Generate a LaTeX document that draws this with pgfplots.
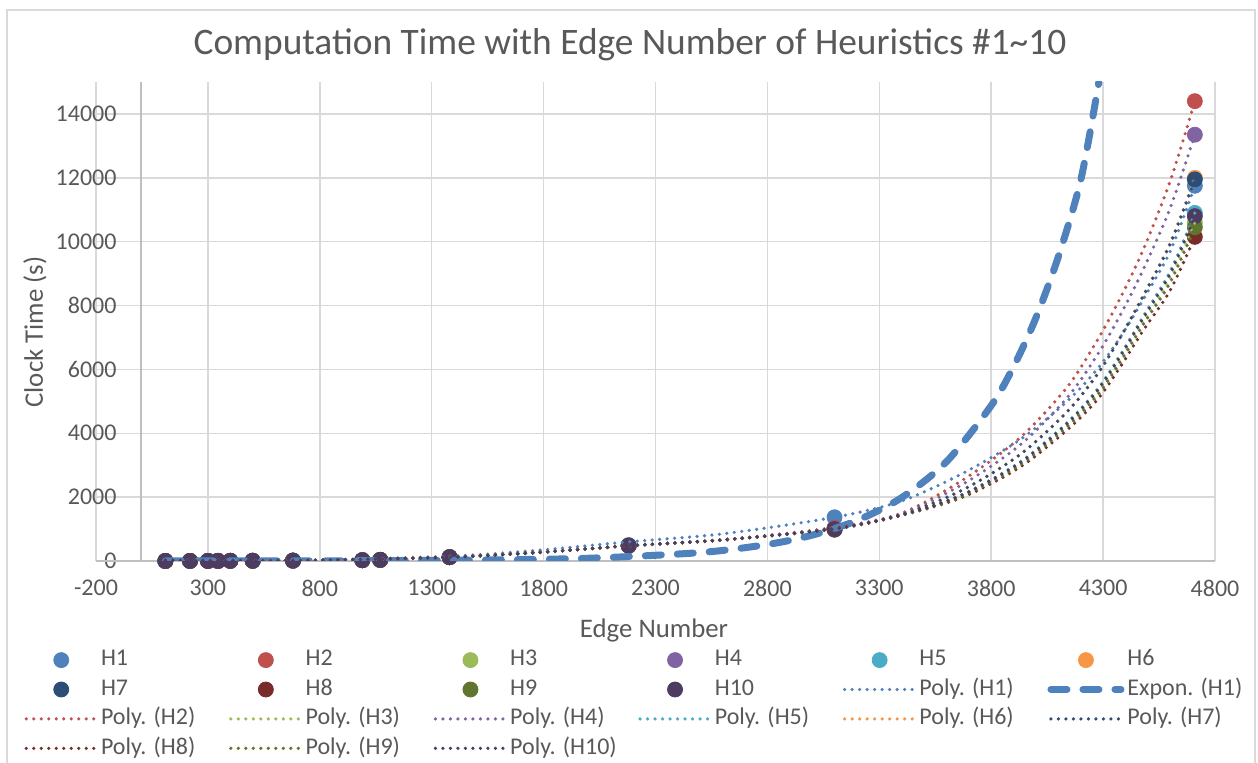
\documentclass[border=0pt]{standalone}
\usepackage{fontspec}
\setmainfont{Carlito}
\usepackage{pgfplots}
\pgfplotsset{compat=1.18}
\definecolor{cH1}{HTML}{4F81BD}
\definecolor{cH2}{HTML}{C0504D}
\definecolor{cH3}{HTML}{9BBB59}
\definecolor{cH4}{HTML}{8064A2}
\definecolor{cH5}{HTML}{4BACC6}
\definecolor{cH6}{HTML}{F79646}
\definecolor{cH7}{HTML}{2C4D75}
\definecolor{cH8}{HTML}{772C2A}
\definecolor{cH9}{HTML}{5F7530}
\definecolor{cH10}{HTML}{4D3B62}
\definecolor{txt}{HTML}{595959}
\definecolor{gridc}{HTML}{D9D9D9}
\definecolor{axc}{HTML}{BFBFBF}
\newcommand{\lgd}[1]{\makebox[62.5pt][l]{#1}}
\pgfplotsset{
  sc/.style={only marks, mark=*, mark size=3.75pt, color=#1, mark options={draw=#1, fill=#1}},
  pl/.style={color=#1, line width=1.8pt, dash pattern=on 0pt off 3.75pt, line cap=round, smooth, mark=none},
}
\begin{document}
\begin{tikzpicture}
\useasboundingbox (0,0) rectangle (629pt,-381.5pt);
\fill[white] (0,0) rectangle (629pt,-381.5pt);
\draw[gridc, line width=0.75pt] (3.5pt,-382pt) -- (3.5pt,-5pt) -- (627.5pt,-5pt) -- (627.5pt,-382pt);
\node[text=txt, font=\fontsize{18.7}{22}\selectfont] at (315pt,-22.5pt) {Computation Time with Edge Number of Heuristics \#1\textasciitilde 10};
\node[text=txt, font=\fontsize{13.4}{16}\selectfont] at (327pt,-315.5pt) {Edge Number};
\node[text=txt, font=\fontsize{13.4}{16}\selectfont, rotate=90] at (17.5pt,-166pt) {Clock Time (s)};
\begin{axis}[
  at={(48pt,-280.5pt)}, anchor=south west,
  scale only axis, width=559.5pt, height=239.5pt,
  xmin=-200, xmax=4800, ymin=0, ymax=15000,
  xtick={-200,300,...,4800}, ytick={0,2000,...,14000},
  scaled y ticks=false, scaled x ticks=false,
  grid=major, major grid style={gridc, line width=0.75pt},
  axis line style={draw=none}, tick style={draw=none},
  clip mode=individual,
  ticklabel style={font=\fontsize{12}{14}\selectfont, text=txt},
  /pgf/number format/assume math mode=true,
  /pgf/number format/1000 sep={},
  xticklabel style={yshift=-5.8pt},
  yticklabel style={xshift=13.8pt},
  legend columns=6,
  legend cell align=left,
  legend style={at={(-0.0643,-0.176)}, anchor=north west, draw=none, fill=none,
    inner sep=0pt, row sep=0.3pt,
    font=\fontsize{12}{14}\selectfont, text=txt,
    nodes={inner sep=1.5pt, text height=8.6pt, text depth=2.8pt}},
  legend image code/.code={\draw[mark repeat=2,mark phase=2,#1] plot coordinates {(0pt,0pt)(17.5pt,0pt)(35pt,0pt)};},
]
\draw[axc, line width=0.75pt] (axis cs:-200,0) -- (axis cs:4800,0);
\draw[axc, line width=0.75pt] (axis cs:0,0) -- (axis cs:0,15000);

\addplot[sc=cH1] table {
110 1
220 2
300 3
345 4
400 5
500 8
680 12
990 25
1070 35
1380 120
2180 500
3100 1370
4710 11750
};
\addlegendentry{\lgd{H1}}
\addplot[sc=cH2] table {
110 1
220 2
300 3
345 4
400 5
500 8
680 12
990 25
1070 35
1380 120
2180 480
3100 1040
4710 14400
};
\addlegendentry{\lgd{H2}}
\addplot[sc=cH3] table {
110 1
220 2
300 3
345 4
400 5
500 8
680 12
990 25
1070 35
1380 120
2180 480
3100 990
4710 10600
};
\addlegendentry{\lgd{H3}}
\addplot[sc=cH4] table {
110 1
220 2
300 3
345 4
400 5
500 8
680 12
990 25
1070 35
1380 120
2180 480
3100 1010
4710 13350
};
\addlegendentry{\lgd{H4}}
\addplot[sc=cH5] table {
110 1
220 2
300 3
345 4
400 5
500 8
680 12
990 25
1070 35
1380 120
2180 480
3100 1000
4710 10900
};
\addlegendentry{\lgd{H5}}
\addplot[sc=cH6] table {
110 1
220 2
300 3
345 4
400 5
500 8
680 12
990 25
1070 35
1380 120
2180 480
3100 1000
4710 12000
};
\addlegendentry{\lgd{H6}}
\addplot[sc=cH7] table {
110 1
220 2
300 3
345 4
400 5
500 8
680 12
990 25
1070 35
1380 120
2180 480
3100 1000
4710 11950
};
\addlegendentry{\lgd{H7}}
\addplot[sc=cH8] table {
110 1
220 2
300 3
345 4
400 5
500 8
680 12
990 25
1070 35
1380 120
2180 480
3100 980
4710 10150
};
\addlegendentry{\lgd{H8}}
\addplot[sc=cH9] table {
110 1
220 2
300 3
345 4
400 5
500 8
680 12
990 25
1070 35
1380 120
2180 480
3100 985
4710 10450
};
\addlegendentry{\lgd{H9}}
\addplot[sc=cH10] table {
110 1
220 2
300 3
345 4
400 5
500 8
680 12
990 25
1070 35
1380 120
2180 480
3100 1000
4710 10800
};
\addlegendentry{\lgd{H10}}

% Poly (H1)
\addplot[pl=cH1] table {
110 30
700 20
1380 150
1800 350
2180 600
2600 850
3100 1370
3400 1880
3674 2750
3929 3800
4139 5000
4273 6000
4376 7000
4480 8200
4600 9700
4710 11750
};
\addlegendentry{\lgd{Poly. (H1)}}
% Expon (H1)
\addplot[color=cH1, line width=3.5pt, dash pattern=on 8pt off 8pt, line cap=round, smooth, mark=none] table {
110 1.25
500 3.0
1000 9.2
1500 28.2
2000 86
2500 264
2800 518
3000 810
3200 1268
3400 1985
3600 3108
3800 4866
3900 6088
4000 7617
4100 9530
4200 11924
4281 15000
};
\addlegendentry{\lgd{Expon. (H1)}}
% Poly (H2)
\addplot[pl=cH2] table {
110 20
700 15
1380 120
1800 280
2180 480
2600 660
3100 1050
3400 1500
3674 2543
3929 3862
4139 5440
4273 6900
4376 8224
4480 9760
4600 11900
4710 14400
};
\addlegendentry{\lgd{Poly. (H2)}}
\addplot[pl=cH3] table {
110 20
700 15
1380 120
1800 280
2180 480
2600 660
3100 1005
3400 1437
3674 2058
3929 3038
4139 4242
4273 5237
4376 6298
4480 7498
4600 8843
4710 10600
};
\addlegendentry{\lgd{Poly. (H3)}}
\addplot[pl=cH4] table {
110 20
700 15
1380 120
1800 280
2180 480
2600 660
3100 1038
3400 1483
3674 2409
3929 3634
4139 5109
4273 6441
4376 7692
4480 9135
4600 11055
4710 13350
};
\addlegendentry{\lgd{Poly. (H4)}}
\addplot[pl=cH5] table {
110 20
700 15
1380 120
1800 280
2180 480
2600 660
3100 1009
3400 1442
3674 2096
3929 3102
4139 4336
4273 5367
4376 6449
4480 7675
4600 9082
4710 10900
};
\addlegendentry{\lgd{Poly. (H5)}}
\addplot[pl=cH6] table {
110 20
700 15
1380 120
1800 280
2180 480
2600 660
3100 1022
3400 1460
3674 2236
3929 3341
4139 4683
4273 5849
4376 7007
4480 8331
4600 9968
4710 12000
};
\addlegendentry{\lgd{Poly. (H6)}}
\addplot[pl=cH7] table {
110 20
700 15
1380 120
1800 280
2180 480
2600 660
3100 1021
3400 1460
3674 2230
3929 3331
4139 4668
4273 5829
4376 6983
4480 8303
4600 9930
4710 11950
};
\addlegendentry{\lgd{Poly. (H7)}}
\addplot[pl=cH8] table {
110 20
700 15
1380 120
1800 280
2180 480
2600 660
3100 1000
3400 1430
3674 2000
3929 2940
4139 4100
4273 5040
4376 6070
4480 7230
4600 8480
4710 10150
};
\addlegendentry{\lgd{Poly. (H8)}}
\addplot[pl=cH9] table {
110 20
700 15
1380 120
1800 280
2180 480
2600 660
3100 1004
3400 1435
3674 2039
3929 3005
4139 4195
4273 5172
4376 6223
4480 7410
4600 8723
4710 10450
};
\addlegendentry{\lgd{Poly. (H9)}}
\addplot[pl=cH10] table {
110 20
700 15
1380 120
1800 280
2180 480
2600 660
3100 1008
3400 1441
3674 2083
3929 3081
4139 4305
4273 5325
4376 6400
4480 7617
4600 9003
4710 10800
};
\addlegendentry{\lgd{Poly. (H10)}}
\end{axis}
\end{tikzpicture}
\end{document}
